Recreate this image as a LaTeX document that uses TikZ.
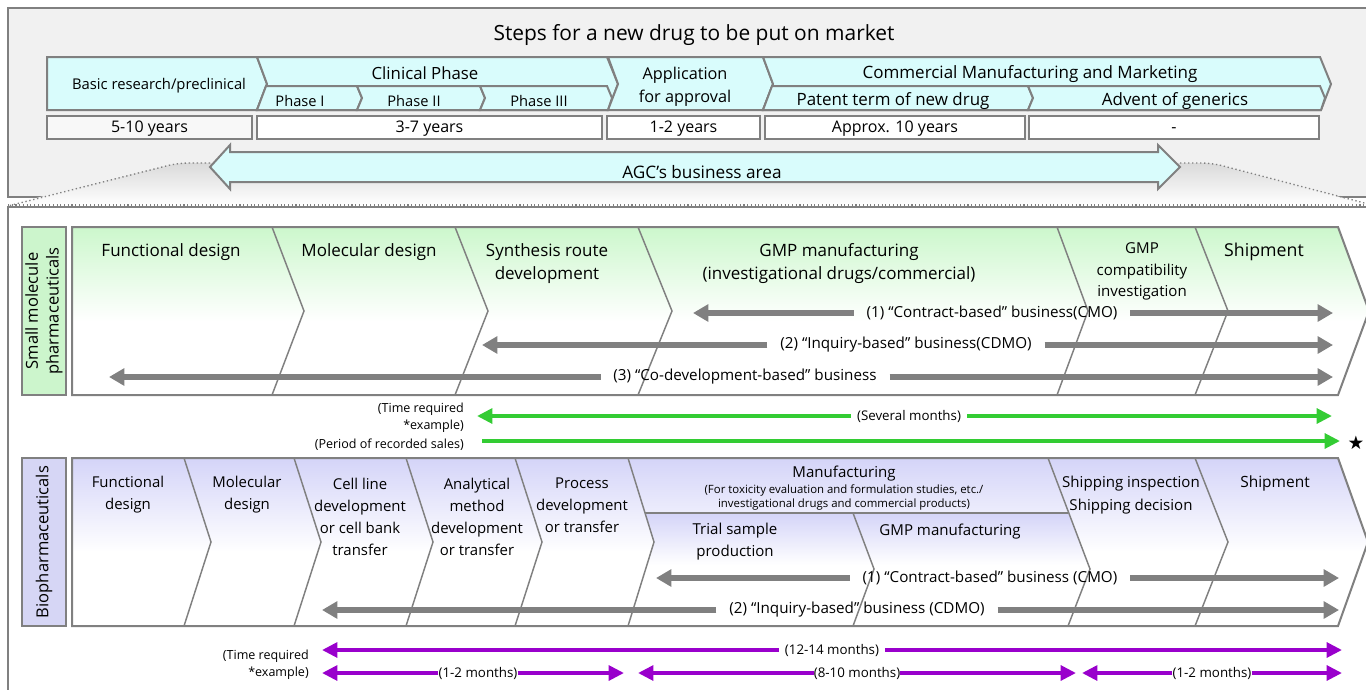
\documentclass[tikz,border=0pt]{standalone}
\usepackage{fontspec}
\setmainfont{Open Sans}
\newfontfamily\symfont{DejaVu Sans}
\usetikzlibrary{arrows.meta}
\definecolor{bord}{RGB}{128,128,128}
\definecolor{cyanf}{RGB}{217,252,252}
\definecolor{topbg}{RGB}{241,241,241}
\definecolor{lgreen}{RGB}{204,247,204}
\definecolor{lblue}{RGB}{212,212,248}
\definecolor{labgreen}{RGB}{204,245,204}
\definecolor{labblue}{RGB}{214,214,245}
\definecolor{arrgray}{RGB}{128,128,128}
\definecolor{agreen}{RGB}{51,204,51}
\definecolor{apurple}{RGB}{153,0,204}
\definecolor{funnel}{RGB}{218,218,218}
\pgfdeclareverticalshading{greenfade}{100bp}{color(0bp)=(white); color(47bp)=(white); color(75bp)=(lgreen); color(100bp)=(lgreen)}
\pgfdeclareverticalshading{bluefade}{100bp}{color(0bp)=(white); color(47bp)=(white); color(75bp)=(lblue); color(100bp)=(lblue)}
\pgfdeclareverticalshading{subfade}{100bp}{color(0bp)=(white); color(52bp)=(white); color(75bp)=(lblue); color(100bp)=(lblue)}
\newcommand\fz[2]{\fontsize{#1}{#2}\selectfont}
\begin{document}
\begin{tikzpicture}[x=0.75pt,y=-0.75pt,
  bline/.style={draw=bord, line width=1.5pt},
  sepl/.style={draw=bord, line width=1.1pt},
  cbox/.style={bline, fill=cyanf},
  tx/.style={inner sep=0pt, align=center, text=black, yshift=-1.2pt},
  yrbox/.style={draw=bord, line width=1.3pt, fill=white, inner sep=0pt, minimum height=17.25pt, text height=9pt, text depth=0.8pt, font=\fz{12}{14}},
  glbl/.style={inner xsep=9.5pt, inner ysep=0pt, font=\fz{11.4}{13}},
  grlbl/.style={inner xsep=4.5pt, inner ysep=0pt, font=\fz{10}{11}},
  plbl/.style={inner xsep=4.5pt, inner ysep=0pt, font=\fz{10}{11}},
  plbl0/.style={inner xsep=0pt, inner ysep=0pt, font=\fz{10}{11}},
  garr/.style={draw=arrgray, line width=4.5pt, -{Triangle[length=11.5pt,width=12.5pt]}},
  gnarr/.style={draw=agreen, line width=3.2pt, -{Triangle[length=11.5pt,width=11pt]}},
  parr/.style={draw=apurple, line width=3.6pt, -{Triangle[length=11.5pt,width=11pt]}},
  labbox/.style={draw=bord, line width=1.5pt, rotate=90, minimum width=126pt, minimum height=33pt, inner sep=0pt, align=center, font=\fz{12.4}{15.5}},
  smst/.style={tx, font=\fz{12.75}{17.25}},
  bist/.style={tx, font=\fz{11.2}{16.5}}
]
\path[use as bounding box] (0,0) rectangle (1366,689);
\clip (0,0) rectangle (1366,689);
\fill[white] (0,0) rectangle (1366,689);

% ---------- top box ----------
\draw[bline, fill=topbg] (8,8) rectangle (1380,197);
\node[tx, font=\fz{15.7}{17}] (title) at (694,33) {Steps for a new drug to be put on market};

% lower box
\draw[bline, fill=white] (8,207) rectangle (1380,700);

% funnel shading
\shade[top color=funnel, bottom color=white, rounded corners=8pt]
  (210,163) -- (178,163) -- (8,205) -- (1380,205) -- (1366,204) -- (1212,163) -- (1180,163) -- cycle;
\draw[bord, dotted, line width=1pt, rounded corners=8pt] (210,163) -- (178,163) -- (8,206);
\draw[bord, dotted, line width=1pt, rounded corners=8pt] (1180,163) -- (1212,163) -- (1372,205);
\draw[bord, dotted, line width=0.8pt] (8,205) -- (1366,205);

% top row chevrons
\draw[cbox] (47,57) -- (257,57) -- (267,84) -- (257,110) -- (47,110) -- cycle;
\draw[cbox] (257,57) -- (607,57) -- (618,84) -- (608,110) -- (257,110) -- (267,84) -- cycle;
\draw[cbox] (266,86) -- (357,86) -- (362,98) -- (357,110) -- (257,110) -- cycle;
\draw[cbox] (357,86) -- (480,86) -- (485,98) -- (480,110) -- (357,110) -- (362,98) -- cycle;
\draw[cbox] (480,86) -- (607,86) -- (612,98) -- (608,110) -- (480,110) -- (485,98) -- cycle;
\draw[cbox] (608,57) -- (763,57) -- (773,84) -- (763,110) -- (608,110) -- (618,84) -- cycle;
\draw[cbox] (763,57) -- (1320,57) -- (1331,84) -- (1321,110) -- (763,110) -- (773,84) -- cycle;
\draw[cbox] (772,86) -- (1028,86) -- (1033,98) -- (1028,110) -- (763,110) -- cycle;
\draw[cbox] (1028,86) -- (1320,86) -- (1325,98) -- (1321,110) -- (1028,110) -- (1033,98) -- cycle;

\node[tx, font=\fz{11.1}{13}] (basic) at (159,84) {Basic research/preclinical};
\node[tx, font=\fz{12.6}{14}] (clin) at (425,72) {Clinical Phase};
\node[tx, font=\fz{11}{12}] (ph1) at (300,99) {Phase I};
\node[tx, font=\fz{11}{12}] (ph2) at (414,99) {Phase II};
\node[tx, font=\fz{11}{12}] (ph3) at (539,99) {Phase III};
\node[tx, font=\fz{12.2}{17.25}] (appl) at (685,85) {Application\\for approval};
\node[tx, font=\fz{12.75}{14}] (comm) at (1030,72) {Commercial Manufacturing and Marketing};
\node[tx, font=\fz{12.7}{14}] (pat) at (893,99) {Patent term of new drug};
\node[tx, font=\fz{12.7}{14}] (adv) at (1175,99) {Advent of generics};

% years
\node[yrbox, fill={rgb,255:red,248;green,248;blue,248}, minimum width=153.75pt] (y1) at (149.5,127.5) {5-10 years};
\node[yrbox, minimum width=258.75pt] (y2) at (429.5,127.5) {3-7 years};
\node[yrbox, minimum width=114.75pt] (y3) at (683.5,127.5) {1-2 years};
\node[yrbox, minimum width=195pt] (y4) at (895,127.5) {Approx. 10 years};
\node[yrbox, minimum width=217.5pt] (y5) at (1174,127.5) {-};

% AGC arrow
\draw[bline, fill=cyanf] (210,167) -- (230,145) -- (230,152) -- (1158,152) -- (1158,145) -- (1180,167)
  -- (1158,189) -- (1158,182) -- (230,182) -- (230,189) -- cycle;
\node[tx, font=\fz{12.9}{14}] (agc) at (702,170) {AGC’s business area};

% ---------- small molecule ----------
\node[labbox, fill=labgreen] (lab1) at (44,311) {Small molecule\\pharmaceuticals};
\shade[shading=greenfade] (72,227) -- (1338,227) -- (1369,311) -- (1338,395) -- (72,395) -- cycle;
\draw[bline] (72,227) -- (1338,227) -- (1369,311) -- (1338,395) -- (72,395) -- cycle;
\draw[sepl] (272,227) -- (304,311) -- (272,395);
\draw[sepl] (455,227) -- (488,311) -- (455,395);
\draw[sepl] (638,227) -- (672,311) -- (638,395);
\draw[sepl] (1057,227) -- (1088,311) -- (1057,395);
\draw[sepl] (1195,227) -- (1228,311) -- (1195,395);

\node[smst] (s1) at (171,250) {Functional design};
\node[smst] (s2) at (369,250) {Molecular design};
\node[smst] (s3) at (547,261.5) {Synthesis route\\development};
\node[smst] (s4) at (839,261.5) {GMP manufacturing\\(investigational drugs/commercial)};
\node[tx, font=\fz{11.3}{16}] (s5) at (1142,270) {GMP\\compatibility\\investigation};
\node[tx, font=\fz{13.3}{15}] (s6) at (1264,250) {Shipment};

\node[glbl] (sm1) at (992,313) {(1) “Contract-based” business(CMO)};
\coordinate (sm1l) at (693,313); \coordinate (sm1r) at (1333,313);
\draw[garr] (sm1.west) -- (sm1l); \draw[garr] (sm1.east) -- (sm1r);
\node[glbl] (sm2) at (906,345) {(2) “Inquiry-based” business(CDMO)};
\coordinate (sm2l) at (482,345); \coordinate (sm2r) at (1333,345);
\draw[garr] (sm2.west) -- (sm2l); \draw[garr] (sm2.east) -- (sm2r);
\node[glbl] (sm3) at (745,377) {(3) “Co-development-based” business};
\coordinate (sm3l) at (109,377); \coordinate (sm3r) at (1333,377);
\draw[garr] (sm3.west) -- (sm3l); \draw[garr] (sm3.east) -- (sm3r);

% green timeline
\node[tx, anchor=east, align=right, font=\fz{9.4}{12.75}] (treq1) at (464,416) {(Time required\\*example)};
\node[tx, anchor=east, font=\fz{9.4}{12}] (psales) at (464,443) {(Period of recorded sales)};
\node[grlbl] (sev) at (909,416) {(Several months)};
\coordinate (sevl) at (477,416); \coordinate (sevr) at (1332,416);
\draw[gnarr] (sev.west) -- (sevl); \draw[gnarr] (sev.east) -- (sevr);
\coordinate (ps0) at (482,441);
\node[inner sep=0pt, font=\symfont\fz{14}{15}] (star) at (1356,443) {★};
\coordinate (ps1) at (1340,441);
\draw[gnarr] (ps0) -- (ps1);

% ---------- biopharmaceuticals ----------
\node[labbox, fill=labblue] (lab2) at (44,542) {Biopharmaceuticals};
\shade[shading=bluefade] (72,458) -- (1338,458) -- (1368,542) -- (1338,626) -- (72,626) -- cycle;
\shade[shading=subfade] (645,513) -- (1068,513) -- (1090,569) -- (1068,626) -- (628,626) -- (654,542) -- cycle;
\draw[bline] (72,458) -- (1338,458) -- (1368,542) -- (1338,626) -- (72,626) -- cycle;
\draw[sepl] (184,458) -- (211,542) -- (184,626);
\draw[sepl] (294,458) -- (321,542) -- (294,626);
\draw[sepl] (406,458) -- (433,542) -- (406,626);
\draw[sepl] (515,458) -- (542,542) -- (515,626);
\draw[sepl] (628,458) -- (654,542) -- (628,626);
\draw[sepl] (1048,458) -- (1090,569) -- (1068,626);
\draw[sepl] (1195,458) -- (1228,542) -- (1195,626);
\draw[sepl] (645,513) -- (1068,513);
\draw[sepl] (853,513) -- (874,569) -- (853,626);

\node[bist] (b1) at (128,493) {Functional\\design};
\node[bist] (b2) at (247,493) {Molecular\\design};
\node[bist] (b3) at (360,515) {Cell line\\development\\or cell bank\\transfer};
\node[bist] (b4) at (477,515) {Analytical\\method\\development\\or transfer};
\node[bist] (b5) at (582,504) {Process\\development\\or transfer};
\node[tx, font=\fz{11.3}{14}] (b6) at (844,472) {Manufacturing};
\node[tx, font=\fz{8.55}{10.5}] (b6s) at (844,496) {(For toxicity evaluation and formulation studies, etc./\\investigational drugs and commercial products)};
\node[tx, font=\fz{11.3}{16}] (b7) at (735,540) {Trial sample\\production};
\node[tx, font=\fz{11.3}{14}] (b8) at (950,530) {GMP manufacturing};
\node[tx, font=\fz{11.3}{17}] (b9) at (1131,493.5) {Shipping inspection\\Shipping decision};
\node[tx, font=\fz{11.6}{14}] (b10) at (1275,482) {Shipment};

\node[glbl] (bi1) at (990,578) {(1) “Contract-based” business (CMO)};
\coordinate (bi1l) at (656,578); \coordinate (bi1r) at (1339,578);
\draw[garr] (bi1.west) -- (bi1l); \draw[garr] (bi1.east) -- (bi1r);
\node[glbl] (bi2) at (857,610) {(2) “Inquiry-based” business (CDMO)};
\coordinate (bi2l) at (322,610); \coordinate (bi2r) at (1339,610);
\draw[garr] (bi2.west) -- (bi2l); \draw[garr] (bi2.east) -- (bi2r);

% purple timeline
\node[tx, anchor=east, align=right, font=\fz{9.4}{12.75}] (treq2) at (309,663) {(Time required\\*example)};
\node[plbl] (p0) at (832,650) {(12-14 months)};
\coordinate (p0l) at (322,650); \coordinate (p0r) at (1342,650);
\draw[parr] (p0.west) -- (p0l); \draw[parr] (p0.east) -- (p0r);
\node[plbl0] (pa) at (478,673) {(1-2 months)};
\coordinate (pal) at (322,673); \coordinate (par) at (624,673);
\draw[parr] (pa.west) -- (pal); \draw[parr] (pa.east) -- (par);
\node[plbl0] (pb) at (857,673) {(8-10 months)};
\coordinate (pbl) at (638,673); \coordinate (pbr) at (1076,673);
\draw[parr] (pb.west) -- (pbl); \draw[parr] (pb.east) -- (pbr);
\node[plbl0] (pc) at (1212,673) {(1-2 months)};
\coordinate (pcl) at (1082,673); \coordinate (pcr) at (1342,673);
\draw[parr] (pc.west) -- (pcl); \draw[parr] (pc.east) -- (pcr);
\end{tikzpicture}
\end{document}
